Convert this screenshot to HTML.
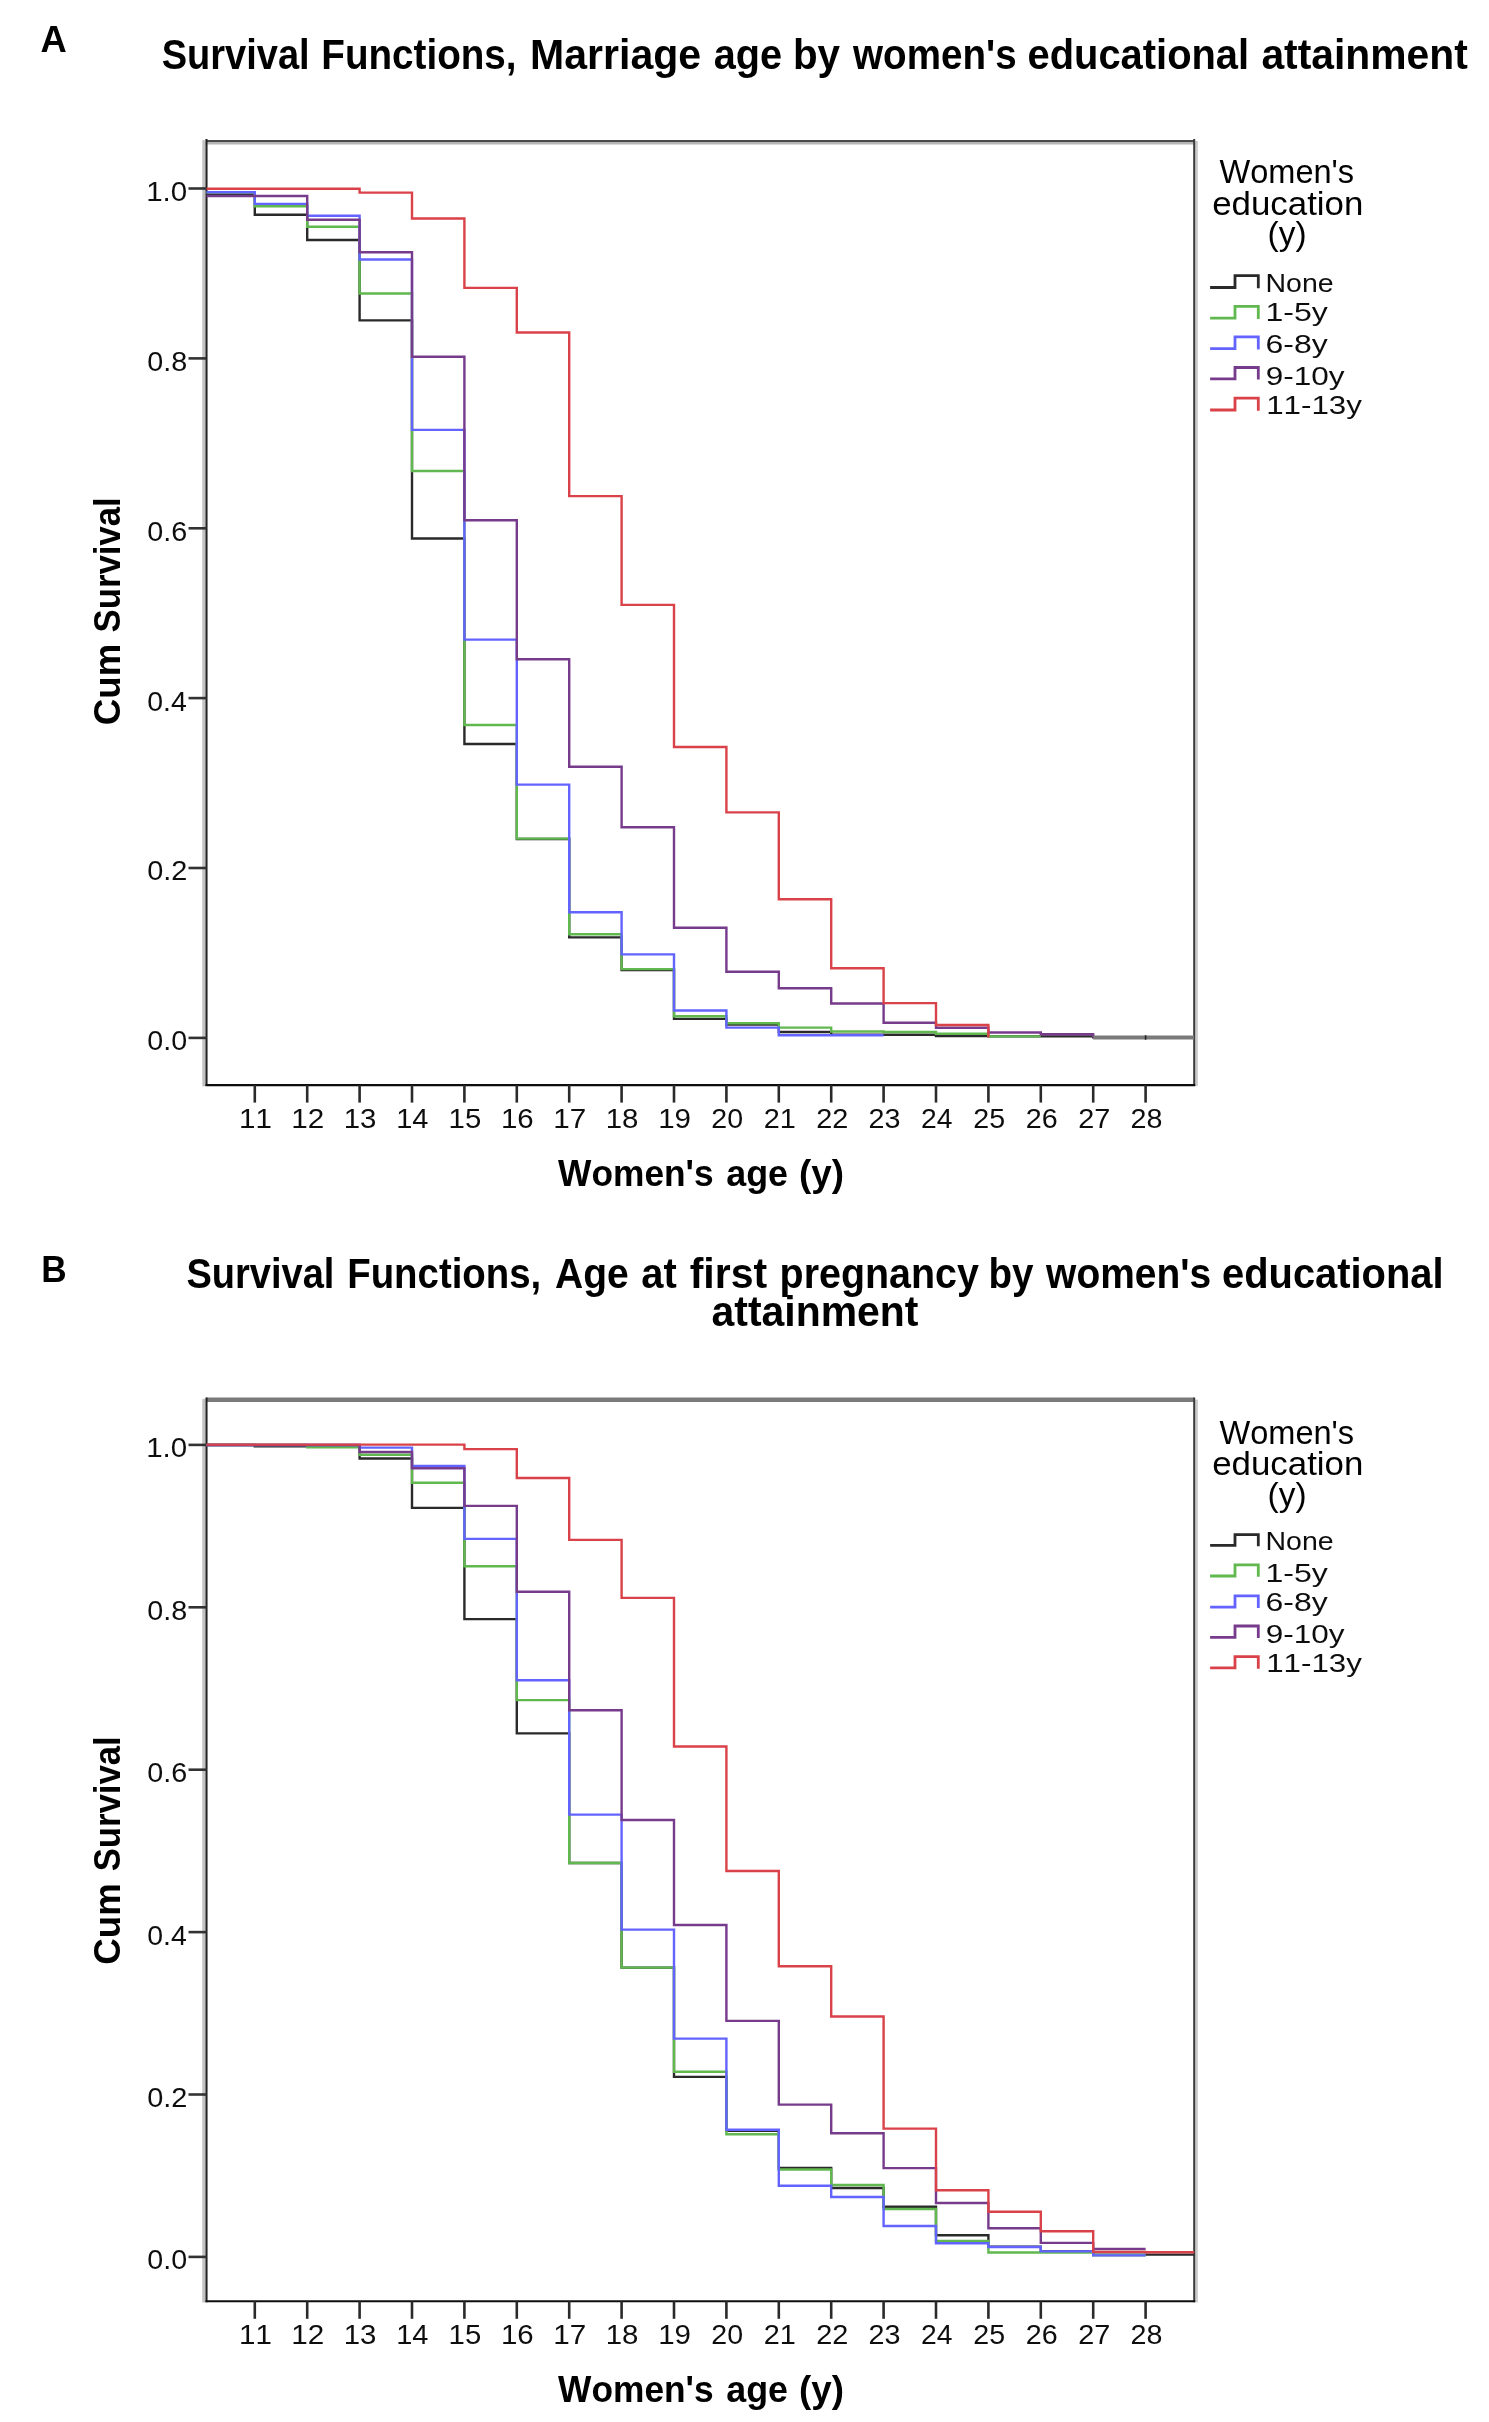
<!DOCTYPE html>
<html><head><meta charset="utf-8"><title>Survival Functions</title>
<style>
html,body{margin:0;padding:0;background:#fff;}
body{width:1489px;height:2422px;overflow:hidden;}
svg{display:block;font-family:"Liberation Sans",sans-serif;font-kerning:none;}
text{font-kerning:none;}
</style></head>
<body>
<svg width="1489" height="2422" viewBox="0 0 1489 2422">
<defs><filter id="bl" x="0" y="0" width="1489" height="2422" filterUnits="userSpaceOnUse"><feGaussianBlur stdDeviation="0.55"/></filter></defs>
<rect width="1489" height="2422" fill="#fff"/>
<g filter="url(#bl)">
<text x="40.49" y="51.80" font-size="36.30" font-weight="bold" textLength="26.26" lengthAdjust="spacingAndGlyphs" fill="#000"  >A</text>
<text x="161.70" y="68.60" font-size="42.00" font-weight="bold" textLength="147.99" lengthAdjust="spacingAndGlyphs" fill="#000"  >Survival</text>
<text x="321.32" y="68.60" font-size="42.00" font-weight="bold" textLength="195.27" lengthAdjust="spacingAndGlyphs" fill="#000"  >Functions,</text>
<text x="530.06" y="68.60" font-size="42.00" font-weight="bold" textLength="171.05" lengthAdjust="spacingAndGlyphs" fill="#000"  >Marriage</text>
<text x="713.64" y="68.60" font-size="42.00" font-weight="bold" textLength="68.32" lengthAdjust="spacingAndGlyphs" fill="#000"  >age</text>
<text x="792.94" y="68.60" font-size="42.00" font-weight="bold" textLength="47.08" lengthAdjust="spacingAndGlyphs" fill="#000"  >by</text>
<text x="853.11" y="68.60" font-size="42.00" font-weight="bold" textLength="163.47" lengthAdjust="spacingAndGlyphs" fill="#000"  >women&#39;s</text>
<text x="1027.54" y="68.60" font-size="42.00" font-weight="bold" textLength="221.58" lengthAdjust="spacingAndGlyphs" fill="#000"  >educational</text>
<text x="1261.40" y="68.60" font-size="42.00" font-weight="bold" textLength="206.39" lengthAdjust="spacingAndGlyphs" fill="#000"  >attainment</text>
<rect x="202.3" y="140.2" width="3" height="946.1" fill="#c2c2c2"/>
<rect x="205.7" y="141.9" width="988.7" height="2.6" fill="#b4b4b4"/>
<rect x="1195.1" y="141.0" width="2.8" height="945.1" fill="#cccccc"/>
<path d="M206.5,140.9H1194.2" stroke="#4a4a4a" stroke-width="2" fill="none"/>
<path d="M206.5,139.0V1086.1" stroke="#222" stroke-width="2.1" fill="none"/>
<path d="M1194.2,139.0V1086.1" stroke="#3a3a3a" stroke-width="2" fill="none"/>
<path d="M205.5,1085.1H1195.2" stroke="#111" stroke-width="2.1" fill="none"/>
<path d="M188.5,188.5H206.5" stroke="#333" stroke-width="2.6" fill="none"/>
<text x="146.15" y="200.90" font-size="27.90" font-weight="normal" textLength="41.00" lengthAdjust="spacingAndGlyphs" fill="#111"  >1.0</text>
<path d="M188.5,358.4H206.5" stroke="#333" stroke-width="2.6" fill="none"/>
<text x="147.28" y="370.78" font-size="27.90" font-weight="normal" textLength="39.97" lengthAdjust="spacingAndGlyphs" fill="#111"  >0.8</text>
<path d="M188.5,528.3H206.5" stroke="#333" stroke-width="2.6" fill="none"/>
<text x="147.28" y="540.66" font-size="27.90" font-weight="normal" textLength="39.99" lengthAdjust="spacingAndGlyphs" fill="#111"  >0.6</text>
<path d="M188.5,698.1H206.5" stroke="#333" stroke-width="2.6" fill="none"/>
<text x="147.29" y="710.54" font-size="27.90" font-weight="normal" textLength="39.54" lengthAdjust="spacingAndGlyphs" fill="#111"  >0.4</text>
<path d="M188.5,868.0H206.5" stroke="#333" stroke-width="2.6" fill="none"/>
<text x="147.27" y="880.42" font-size="27.90" font-weight="normal" textLength="40.18" lengthAdjust="spacingAndGlyphs" fill="#111"  >0.2</text>
<path d="M188.5,1037.9H206.5" stroke="#333" stroke-width="2.6" fill="none"/>
<text x="147.28" y="1050.30" font-size="27.90" font-weight="normal" textLength="39.84" lengthAdjust="spacingAndGlyphs" fill="#111"  >0.0</text>
<path d="M254.8,1085.1V1102.6" stroke="#2a2a2a" stroke-width="2.6" fill="none"/>
<text x="238.95" y="1128.00" font-size="27.90" font-weight="normal" textLength="32.90" lengthAdjust="spacingAndGlyphs" fill="#111"  >11</text>
<path d="M307.2,1085.1V1102.6" stroke="#2a2a2a" stroke-width="2.6" fill="none"/>
<text x="291.34" y="1128.00" font-size="27.90" font-weight="normal" textLength="32.95" lengthAdjust="spacingAndGlyphs" fill="#111"  >12</text>
<path d="M359.6,1085.1V1102.6" stroke="#2a2a2a" stroke-width="2.6" fill="none"/>
<text x="343.76" y="1128.00" font-size="27.90" font-weight="normal" textLength="32.74" lengthAdjust="spacingAndGlyphs" fill="#111"  >13</text>
<path d="M412.0,1085.1V1102.6" stroke="#2a2a2a" stroke-width="2.6" fill="none"/>
<text x="396.19" y="1128.00" font-size="27.90" font-weight="normal" textLength="32.26" lengthAdjust="spacingAndGlyphs" fill="#111"  >14</text>
<path d="M464.4,1085.1V1102.6" stroke="#2a2a2a" stroke-width="2.6" fill="none"/>
<text x="448.56" y="1128.00" font-size="27.90" font-weight="normal" textLength="32.67" lengthAdjust="spacingAndGlyphs" fill="#111"  >15</text>
<path d="M516.8,1085.1V1102.6" stroke="#2a2a2a" stroke-width="2.6" fill="none"/>
<text x="500.96" y="1128.00" font-size="27.90" font-weight="normal" textLength="32.74" lengthAdjust="spacingAndGlyphs" fill="#111"  >16</text>
<path d="M569.2,1085.1V1102.6" stroke="#2a2a2a" stroke-width="2.6" fill="none"/>
<text x="553.34" y="1128.00" font-size="27.90" font-weight="normal" textLength="32.95" lengthAdjust="spacingAndGlyphs" fill="#111"  >17</text>
<path d="M621.6,1085.1V1102.6" stroke="#2a2a2a" stroke-width="2.6" fill="none"/>
<text x="605.76" y="1128.00" font-size="27.90" font-weight="normal" textLength="32.72" lengthAdjust="spacingAndGlyphs" fill="#111"  >18</text>
<path d="M674.0,1085.1V1102.6" stroke="#2a2a2a" stroke-width="2.6" fill="none"/>
<text x="658.15" y="1128.00" font-size="27.90" font-weight="normal" textLength="32.85" lengthAdjust="spacingAndGlyphs" fill="#111"  >19</text>
<path d="M726.4,1085.1V1102.6" stroke="#2a2a2a" stroke-width="2.6" fill="none"/>
<text x="711.36" y="1128.00" font-size="27.90" font-weight="normal" textLength="31.75" lengthAdjust="spacingAndGlyphs" fill="#111"  >20</text>
<path d="M778.8,1085.1V1102.6" stroke="#2a2a2a" stroke-width="2.6" fill="none"/>
<text x="763.75" y="1128.00" font-size="27.90" font-weight="normal" textLength="32.06" lengthAdjust="spacingAndGlyphs" fill="#111"  >21</text>
<path d="M831.2,1085.1V1102.6" stroke="#2a2a2a" stroke-width="2.6" fill="none"/>
<text x="816.15" y="1128.00" font-size="27.90" font-weight="normal" textLength="32.10" lengthAdjust="spacingAndGlyphs" fill="#111"  >22</text>
<path d="M883.6,1085.1V1102.6" stroke="#2a2a2a" stroke-width="2.6" fill="none"/>
<text x="868.56" y="1128.00" font-size="27.90" font-weight="normal" textLength="31.90" lengthAdjust="spacingAndGlyphs" fill="#111"  >23</text>
<path d="M936.0,1085.1V1102.6" stroke="#2a2a2a" stroke-width="2.6" fill="none"/>
<text x="920.98" y="1128.00" font-size="27.90" font-weight="normal" textLength="31.45" lengthAdjust="spacingAndGlyphs" fill="#111"  >24</text>
<path d="M988.4,1085.1V1102.6" stroke="#2a2a2a" stroke-width="2.6" fill="none"/>
<text x="973.36" y="1128.00" font-size="27.90" font-weight="normal" textLength="31.84" lengthAdjust="spacingAndGlyphs" fill="#111"  >25</text>
<path d="M1040.8,1085.1V1102.6" stroke="#2a2a2a" stroke-width="2.6" fill="none"/>
<text x="1025.76" y="1128.00" font-size="27.90" font-weight="normal" textLength="31.90" lengthAdjust="spacingAndGlyphs" fill="#111"  >26</text>
<path d="M1093.2,1085.1V1102.6" stroke="#2a2a2a" stroke-width="2.6" fill="none"/>
<text x="1078.15" y="1128.00" font-size="27.90" font-weight="normal" textLength="32.10" lengthAdjust="spacingAndGlyphs" fill="#111"  >27</text>
<path d="M1145.6,1085.1V1102.6" stroke="#2a2a2a" stroke-width="2.6" fill="none"/>
<text x="1130.56" y="1128.00" font-size="27.90" font-weight="normal" textLength="31.89" lengthAdjust="spacingAndGlyphs" fill="#111"  >28</text>
<text x="558.07" y="1185.60" font-size="37.50" font-weight="bold" textLength="155.58" lengthAdjust="spacingAndGlyphs" fill="#000"  >Women&#39;s</text>
<text x="726.25" y="1185.60" font-size="37.50" font-weight="bold" textLength="61.78" lengthAdjust="spacingAndGlyphs" fill="#000"  >age</text>
<text x="799.07" y="1185.60" font-size="37.50" font-weight="bold" textLength="44.96" lengthAdjust="spacingAndGlyphs" fill="#000"  >(y)</text>
<text transform="rotate(-90)" x="-725.21" y="119.70" font-size="37.50" font-weight="bold" textLength="81.58" lengthAdjust="spacingAndGlyphs" fill="#000"  >Cum</text>
<text transform="rotate(-90)" x="-632.40" y="119.70" font-size="37.50" font-weight="bold" textLength="134.95" lengthAdjust="spacingAndGlyphs" fill="#000"  >Survival</text>
<path d="M206.5,194.5H254.8V214.8H307.2V240.0H359.6V320.4H412.0V538.5H464.4V744.0H516.8V839.0H569.2V937.4H621.6V970.0H674.0V1018.9H726.4V1024.5H778.8V1032.0H831.2V1034.6H883.6V1034.8H936.0V1036.1H988.4V1036.4H1040.8V1036.4H1093.2V1037.3H1145.6V1037.3H1194.2" stroke="#2a2a2a" stroke-width="2.4" fill="none" stroke-linejoin="miter"/>
<path d="M206.5,192.6H254.8V206.3H307.2V226.8H359.6V293.5H412.0V471.0H464.4V725.0H516.8V838.6H569.2V934.3H621.6V969.1H674.0V1016.3H726.4V1023.3H778.8V1027.6H831.2V1031.5H883.6V1032.0H936.0V1033.7H988.4V1036.4H1040.8" stroke="#60b850" stroke-width="2.4" fill="none" stroke-linejoin="miter"/>
<path d="M206.5,192.2H254.8V203.9H307.2V215.7H359.6V259.5H412.0V429.9H464.4V639.6H516.8V784.6H569.2V912.2H621.6V954.4H674.0V1010.5H726.4V1027.6H778.8V1035.3H831.2V1035.3H883.6" stroke="#6464ff" stroke-width="2.4" fill="none" stroke-linejoin="miter"/>
<path d="M206.5,196.0H254.8V196.0H307.2V219.8H359.6V252.2H412.0V356.8H464.4V520.3H516.8V659.3H569.2V766.8H621.6V827.3H674.0V927.7H726.4V971.7H778.8V988.3H831.2V1003.5H883.6V1022.7H936.0V1027.7H988.4V1032.5H1040.8V1034.2H1093.2V1037.3" stroke="#773a8c" stroke-width="2.4" fill="none" stroke-linejoin="miter"/>
<path d="M206.5,188.8H254.8V188.8H307.2V188.8H359.6V192.6H412.0V218.5H464.4V287.9H516.8V332.5H569.2V496.1H621.6V604.9H674.0V747.0H726.4V812.4H778.8V899.3H831.2V968.3H883.6V1003.1H936.0V1025.0H988.4V1037.6" stroke="#da4249" stroke-width="2.4" fill="none" stroke-linejoin="miter"/>
<path d="M1093.2,1037.5H1194.2" stroke="#7a7a7a" stroke-width="4.2" fill="none"/>
<path d="M1145.6,1035.3V1039.7" stroke="#222" stroke-width="1.6" fill="none"/>
<text x="1219.46" y="182.80" font-size="32.40" font-weight="normal" textLength="134.62" lengthAdjust="spacingAndGlyphs" fill="#000"  >Women&#39;s</text>
<text x="1212.22" y="214.50" font-size="32.40" font-weight="normal" textLength="151.14" lengthAdjust="spacingAndGlyphs" fill="#000"  >education</text>
<text x="1267.63" y="245.40" font-size="32.40" font-weight="normal" textLength="38.94" lengthAdjust="spacingAndGlyphs" fill="#000"  >(y)</text>
<path d="M1210.1,287.5H1235V275.7H1258.3V288.3" stroke="#2a2a2a" stroke-width="2.8" fill="none"/>
<text x="1265.56" y="292.30" font-size="26.20" font-weight="normal" textLength="68.10" lengthAdjust="spacingAndGlyphs" fill="#111"  >None</text>
<path d="M1210.1,318.1H1235V306.3H1258.3V318.9" stroke="#60b850" stroke-width="2.8" fill="none"/>
<text x="1265.46" y="321.30" font-size="26.20" font-weight="normal" textLength="62.30" lengthAdjust="spacingAndGlyphs" fill="#111"  >1-5y</text>
<path d="M1210.1,348.7H1235V336.9H1258.3V349.5" stroke="#6464ff" stroke-width="2.8" fill="none"/>
<text x="1265.58" y="352.50" font-size="26.20" font-weight="normal" textLength="62.19" lengthAdjust="spacingAndGlyphs" fill="#111"  >6-8y</text>
<path d="M1210.1,378.8H1235V367.5H1258.3V379.6" stroke="#773a8c" stroke-width="2.8" fill="none"/>
<text x="1265.72" y="384.70" font-size="26.20" font-weight="normal" textLength="78.84" lengthAdjust="spacingAndGlyphs" fill="#111"  >9-10y</text>
<path d="M1210.1,410.0H1235V398.2H1258.3V410.8" stroke="#da4249" stroke-width="2.8" fill="none"/>
<text x="1266.21" y="414.30" font-size="26.20" font-weight="normal" textLength="95.75" lengthAdjust="spacingAndGlyphs" fill="#111"  >11-13y</text>
<text x="41.14" y="1281.90" font-size="36.30" font-weight="bold" textLength="25.46" lengthAdjust="spacingAndGlyphs" fill="#000"  >B</text>
<text x="186.40" y="1287.60" font-size="42.00" font-weight="bold" textLength="147.99" lengthAdjust="spacingAndGlyphs" fill="#000"  >Survival</text>
<text x="347.23" y="1287.60" font-size="42.00" font-weight="bold" textLength="194.04" lengthAdjust="spacingAndGlyphs" fill="#000"  >Functions,</text>
<text x="555.03" y="1287.60" font-size="42.00" font-weight="bold" textLength="73.71" lengthAdjust="spacingAndGlyphs" fill="#000"  >Age</text>
<text x="641.33" y="1287.60" font-size="42.00" font-weight="bold" textLength="35.45" lengthAdjust="spacingAndGlyphs" fill="#000"  >at</text>
<text x="689.70" y="1287.60" font-size="42.00" font-weight="bold" textLength="77.40" lengthAdjust="spacingAndGlyphs" fill="#000"  >first</text>
<text x="779.60" y="1287.60" font-size="42.00" font-weight="bold" textLength="199.31" lengthAdjust="spacingAndGlyphs" fill="#000"  >pregnancy</text>
<text x="988.46" y="1287.60" font-size="42.00" font-weight="bold" textLength="45.05" lengthAdjust="spacingAndGlyphs" fill="#000"  >by</text>
<text x="1046.11" y="1287.60" font-size="42.00" font-weight="bold" textLength="164.98" lengthAdjust="spacingAndGlyphs" fill="#000"  >women&#39;s</text>
<text x="1222.04" y="1287.60" font-size="42.00" font-weight="bold" textLength="221.48" lengthAdjust="spacingAndGlyphs" fill="#000"  >educational</text>
<text x="711.50" y="1326.10" font-size="42.00" font-weight="bold" textLength="207.00" lengthAdjust="spacingAndGlyphs" fill="#000"  >attainment</text>
<rect x="202.3" y="1398.8" width="3" height="903.7" fill="#c2c2c2"/>
<rect x="1195.1" y="1399.6" width="2.8" height="902.7" fill="#cccccc"/>
<path d="M206.5,1399.8H1194.2" stroke="#7a7a7a" stroke-width="4.6" fill="none"/>
<path d="M206.5,1397.6V2302.3" stroke="#222" stroke-width="2.1" fill="none"/>
<path d="M1194.2,1397.6V2302.3" stroke="#3a3a3a" stroke-width="2" fill="none"/>
<path d="M205.5,2301.3H1195.2" stroke="#111" stroke-width="2.1" fill="none"/>
<path d="M188.5,1444.9H206.5" stroke="#333" stroke-width="2.6" fill="none"/>
<text x="146.15" y="1457.30" font-size="27.90" font-weight="normal" textLength="41.00" lengthAdjust="spacingAndGlyphs" fill="#111"  >1.0</text>
<path d="M188.5,1607.3H206.5" stroke="#333" stroke-width="2.6" fill="none"/>
<text x="147.28" y="1619.70" font-size="27.90" font-weight="normal" textLength="39.97" lengthAdjust="spacingAndGlyphs" fill="#111"  >0.8</text>
<path d="M188.5,1769.7H206.5" stroke="#333" stroke-width="2.6" fill="none"/>
<text x="147.28" y="1782.10" font-size="27.90" font-weight="normal" textLength="39.99" lengthAdjust="spacingAndGlyphs" fill="#111"  >0.6</text>
<path d="M188.5,1932.1H206.5" stroke="#333" stroke-width="2.6" fill="none"/>
<text x="147.29" y="1944.50" font-size="27.90" font-weight="normal" textLength="39.54" lengthAdjust="spacingAndGlyphs" fill="#111"  >0.4</text>
<path d="M188.5,2094.5H206.5" stroke="#333" stroke-width="2.6" fill="none"/>
<text x="147.27" y="2106.90" font-size="27.90" font-weight="normal" textLength="40.18" lengthAdjust="spacingAndGlyphs" fill="#111"  >0.2</text>
<path d="M188.5,2256.9H206.5" stroke="#333" stroke-width="2.6" fill="none"/>
<text x="147.28" y="2269.30" font-size="27.90" font-weight="normal" textLength="39.84" lengthAdjust="spacingAndGlyphs" fill="#111"  >0.0</text>
<path d="M254.8,2301.3V2318.8" stroke="#2a2a2a" stroke-width="2.6" fill="none"/>
<text x="238.95" y="2344.20" font-size="27.90" font-weight="normal" textLength="32.90" lengthAdjust="spacingAndGlyphs" fill="#111"  >11</text>
<path d="M307.2,2301.3V2318.8" stroke="#2a2a2a" stroke-width="2.6" fill="none"/>
<text x="291.34" y="2344.20" font-size="27.90" font-weight="normal" textLength="32.95" lengthAdjust="spacingAndGlyphs" fill="#111"  >12</text>
<path d="M359.6,2301.3V2318.8" stroke="#2a2a2a" stroke-width="2.6" fill="none"/>
<text x="343.76" y="2344.20" font-size="27.90" font-weight="normal" textLength="32.74" lengthAdjust="spacingAndGlyphs" fill="#111"  >13</text>
<path d="M412.0,2301.3V2318.8" stroke="#2a2a2a" stroke-width="2.6" fill="none"/>
<text x="396.19" y="2344.20" font-size="27.90" font-weight="normal" textLength="32.26" lengthAdjust="spacingAndGlyphs" fill="#111"  >14</text>
<path d="M464.4,2301.3V2318.8" stroke="#2a2a2a" stroke-width="2.6" fill="none"/>
<text x="448.56" y="2344.20" font-size="27.90" font-weight="normal" textLength="32.67" lengthAdjust="spacingAndGlyphs" fill="#111"  >15</text>
<path d="M516.8,2301.3V2318.8" stroke="#2a2a2a" stroke-width="2.6" fill="none"/>
<text x="500.96" y="2344.20" font-size="27.90" font-weight="normal" textLength="32.74" lengthAdjust="spacingAndGlyphs" fill="#111"  >16</text>
<path d="M569.2,2301.3V2318.8" stroke="#2a2a2a" stroke-width="2.6" fill="none"/>
<text x="553.34" y="2344.20" font-size="27.90" font-weight="normal" textLength="32.95" lengthAdjust="spacingAndGlyphs" fill="#111"  >17</text>
<path d="M621.6,2301.3V2318.8" stroke="#2a2a2a" stroke-width="2.6" fill="none"/>
<text x="605.76" y="2344.20" font-size="27.90" font-weight="normal" textLength="32.72" lengthAdjust="spacingAndGlyphs" fill="#111"  >18</text>
<path d="M674.0,2301.3V2318.8" stroke="#2a2a2a" stroke-width="2.6" fill="none"/>
<text x="658.15" y="2344.20" font-size="27.90" font-weight="normal" textLength="32.85" lengthAdjust="spacingAndGlyphs" fill="#111"  >19</text>
<path d="M726.4,2301.3V2318.8" stroke="#2a2a2a" stroke-width="2.6" fill="none"/>
<text x="711.36" y="2344.20" font-size="27.90" font-weight="normal" textLength="31.75" lengthAdjust="spacingAndGlyphs" fill="#111"  >20</text>
<path d="M778.8,2301.3V2318.8" stroke="#2a2a2a" stroke-width="2.6" fill="none"/>
<text x="763.75" y="2344.20" font-size="27.90" font-weight="normal" textLength="32.06" lengthAdjust="spacingAndGlyphs" fill="#111"  >21</text>
<path d="M831.2,2301.3V2318.8" stroke="#2a2a2a" stroke-width="2.6" fill="none"/>
<text x="816.15" y="2344.20" font-size="27.90" font-weight="normal" textLength="32.10" lengthAdjust="spacingAndGlyphs" fill="#111"  >22</text>
<path d="M883.6,2301.3V2318.8" stroke="#2a2a2a" stroke-width="2.6" fill="none"/>
<text x="868.56" y="2344.20" font-size="27.90" font-weight="normal" textLength="31.90" lengthAdjust="spacingAndGlyphs" fill="#111"  >23</text>
<path d="M936.0,2301.3V2318.8" stroke="#2a2a2a" stroke-width="2.6" fill="none"/>
<text x="920.98" y="2344.20" font-size="27.90" font-weight="normal" textLength="31.45" lengthAdjust="spacingAndGlyphs" fill="#111"  >24</text>
<path d="M988.4,2301.3V2318.8" stroke="#2a2a2a" stroke-width="2.6" fill="none"/>
<text x="973.36" y="2344.20" font-size="27.90" font-weight="normal" textLength="31.84" lengthAdjust="spacingAndGlyphs" fill="#111"  >25</text>
<path d="M1040.8,2301.3V2318.8" stroke="#2a2a2a" stroke-width="2.6" fill="none"/>
<text x="1025.76" y="2344.20" font-size="27.90" font-weight="normal" textLength="31.90" lengthAdjust="spacingAndGlyphs" fill="#111"  >26</text>
<path d="M1093.2,2301.3V2318.8" stroke="#2a2a2a" stroke-width="2.6" fill="none"/>
<text x="1078.15" y="2344.20" font-size="27.90" font-weight="normal" textLength="32.10" lengthAdjust="spacingAndGlyphs" fill="#111"  >27</text>
<path d="M1145.6,2301.3V2318.8" stroke="#2a2a2a" stroke-width="2.6" fill="none"/>
<text x="1130.56" y="2344.20" font-size="27.90" font-weight="normal" textLength="31.89" lengthAdjust="spacingAndGlyphs" fill="#111"  >28</text>
<text x="558.07" y="2401.90" font-size="37.50" font-weight="bold" textLength="155.58" lengthAdjust="spacingAndGlyphs" fill="#000"  >Women&#39;s</text>
<text x="726.25" y="2401.90" font-size="37.50" font-weight="bold" textLength="61.78" lengthAdjust="spacingAndGlyphs" fill="#000"  >age</text>
<text x="799.07" y="2401.90" font-size="37.50" font-weight="bold" textLength="44.96" lengthAdjust="spacingAndGlyphs" fill="#000"  >(y)</text>
<text transform="rotate(-90)" x="-1964.71" y="119.70" font-size="37.50" font-weight="bold" textLength="81.58" lengthAdjust="spacingAndGlyphs" fill="#000"  >Cum</text>
<text transform="rotate(-90)" x="-1871.30" y="119.70" font-size="37.50" font-weight="bold" textLength="134.95" lengthAdjust="spacingAndGlyphs" fill="#000"  >Survival</text>
<path d="M206.5,1445.0H254.8V1446.3H307.2V1446.6H359.6V1458.5H412.0V1507.9H464.4V1619.1H516.8V1733.4H569.2V1863.0H621.6V1967.6H674.0V2076.9H726.4V2130.7H778.8V2168.0H831.2V2188.0H883.6V2206.8H936.0V2235.2H988.4V2246.6H1040.8V2251.4H1093.2V2254.6H1145.6V2254.6H1194.2" stroke="#2a2a2a" stroke-width="2.4" fill="none" stroke-linejoin="miter"/>
<path d="M206.5,1445.0H254.8V1445.0H307.2V1447.3H359.6V1454.8H412.0V1482.8H464.4V1566.3H516.8V1700.1H569.2V1863.0H621.6V1967.6H674.0V2071.7H726.4V2134.3H778.8V2169.5H831.2V2185.0H883.6V2209.0H936.0V2241.0H988.4V2252.5H1040.8V2252.5H1093.2V2255.2H1145.6" stroke="#60b850" stroke-width="2.4" fill="none" stroke-linejoin="miter"/>
<path d="M206.5,1445.0H254.8V1445.0H307.2V1445.0H359.6V1447.6H412.0V1466.0H464.4V1538.9H516.8V1680.2H569.2V1814.6H621.6V1929.6H674.0V2038.6H726.4V2129.7H778.8V2185.8H831.2V2197.0H883.6V2226.0H936.0V2243.2H988.4V2247.0H1040.8V2251.4H1093.2V2255.4H1145.6" stroke="#6464ff" stroke-width="2.4" fill="none" stroke-linejoin="miter"/>
<path d="M206.5,1445.0H254.8V1445.0H307.2V1445.0H359.6V1452.0H412.0V1468.2H464.4V1505.9H516.8V1591.7H569.2V1710.2H621.6V1820.0H674.0V1925.0H726.4V2020.9H778.8V2104.6H831.2V2133.3H883.6V2168.1H936.0V2203.0H988.4V2228.3H1040.8V2242.9H1093.2V2249.0H1145.6" stroke="#773a8c" stroke-width="2.4" fill="none" stroke-linejoin="miter"/>
<path d="M206.5,1444.6H254.8V1444.6H307.2V1444.6H359.6V1444.6H412.0V1444.6H464.4V1449.1H516.8V1478.0H569.2V1539.9H621.6V1597.9H674.0V1746.5H726.4V1871.0H778.8V1966.3H831.2V2016.5H883.6V2128.6H936.0V2190.2H988.4V2211.7H1040.8V2231.3H1093.2V2251.9H1145.6V2252.2H1194.2" stroke="#da4249" stroke-width="2.4" fill="none" stroke-linejoin="miter"/>
<text x="1219.46" y="1443.50" font-size="32.40" font-weight="normal" textLength="134.62" lengthAdjust="spacingAndGlyphs" fill="#000"  >Women&#39;s</text>
<text x="1212.22" y="1475.20" font-size="32.40" font-weight="normal" textLength="151.14" lengthAdjust="spacingAndGlyphs" fill="#000"  >education</text>
<text x="1267.63" y="1506.00" font-size="32.40" font-weight="normal" textLength="38.94" lengthAdjust="spacingAndGlyphs" fill="#000"  >(y)</text>
<path d="M1210.1,1545.4H1235V1534.7H1258.3V1546.2" stroke="#2a2a2a" stroke-width="2.8" fill="none"/>
<text x="1265.56" y="1550.30" font-size="26.20" font-weight="normal" textLength="68.10" lengthAdjust="spacingAndGlyphs" fill="#111"  >None</text>
<path d="M1210.1,1576.0H1235V1564.8H1258.3V1576.8" stroke="#60b850" stroke-width="2.8" fill="none"/>
<text x="1265.46" y="1582.00" font-size="26.20" font-weight="normal" textLength="62.30" lengthAdjust="spacingAndGlyphs" fill="#111"  >1-5y</text>
<path d="M1210.1,1607.2H1235V1595.9H1258.3V1608.0" stroke="#6464ff" stroke-width="2.8" fill="none"/>
<text x="1265.58" y="1611.00" font-size="26.20" font-weight="normal" textLength="62.19" lengthAdjust="spacingAndGlyphs" fill="#111"  >6-8y</text>
<path d="M1210.1,1637.3H1235V1626.0H1258.3V1638.1" stroke="#773a8c" stroke-width="2.8" fill="none"/>
<text x="1265.72" y="1642.70" font-size="26.20" font-weight="normal" textLength="78.84" lengthAdjust="spacingAndGlyphs" fill="#111"  >9-10y</text>
<path d="M1210.1,1667.9H1235V1656.6H1258.3V1668.7" stroke="#da4249" stroke-width="2.8" fill="none"/>
<text x="1266.21" y="1671.70" font-size="26.20" font-weight="normal" textLength="95.75" lengthAdjust="spacingAndGlyphs" fill="#111"  >11-13y</text>
</g>
</svg>
</body></html>
